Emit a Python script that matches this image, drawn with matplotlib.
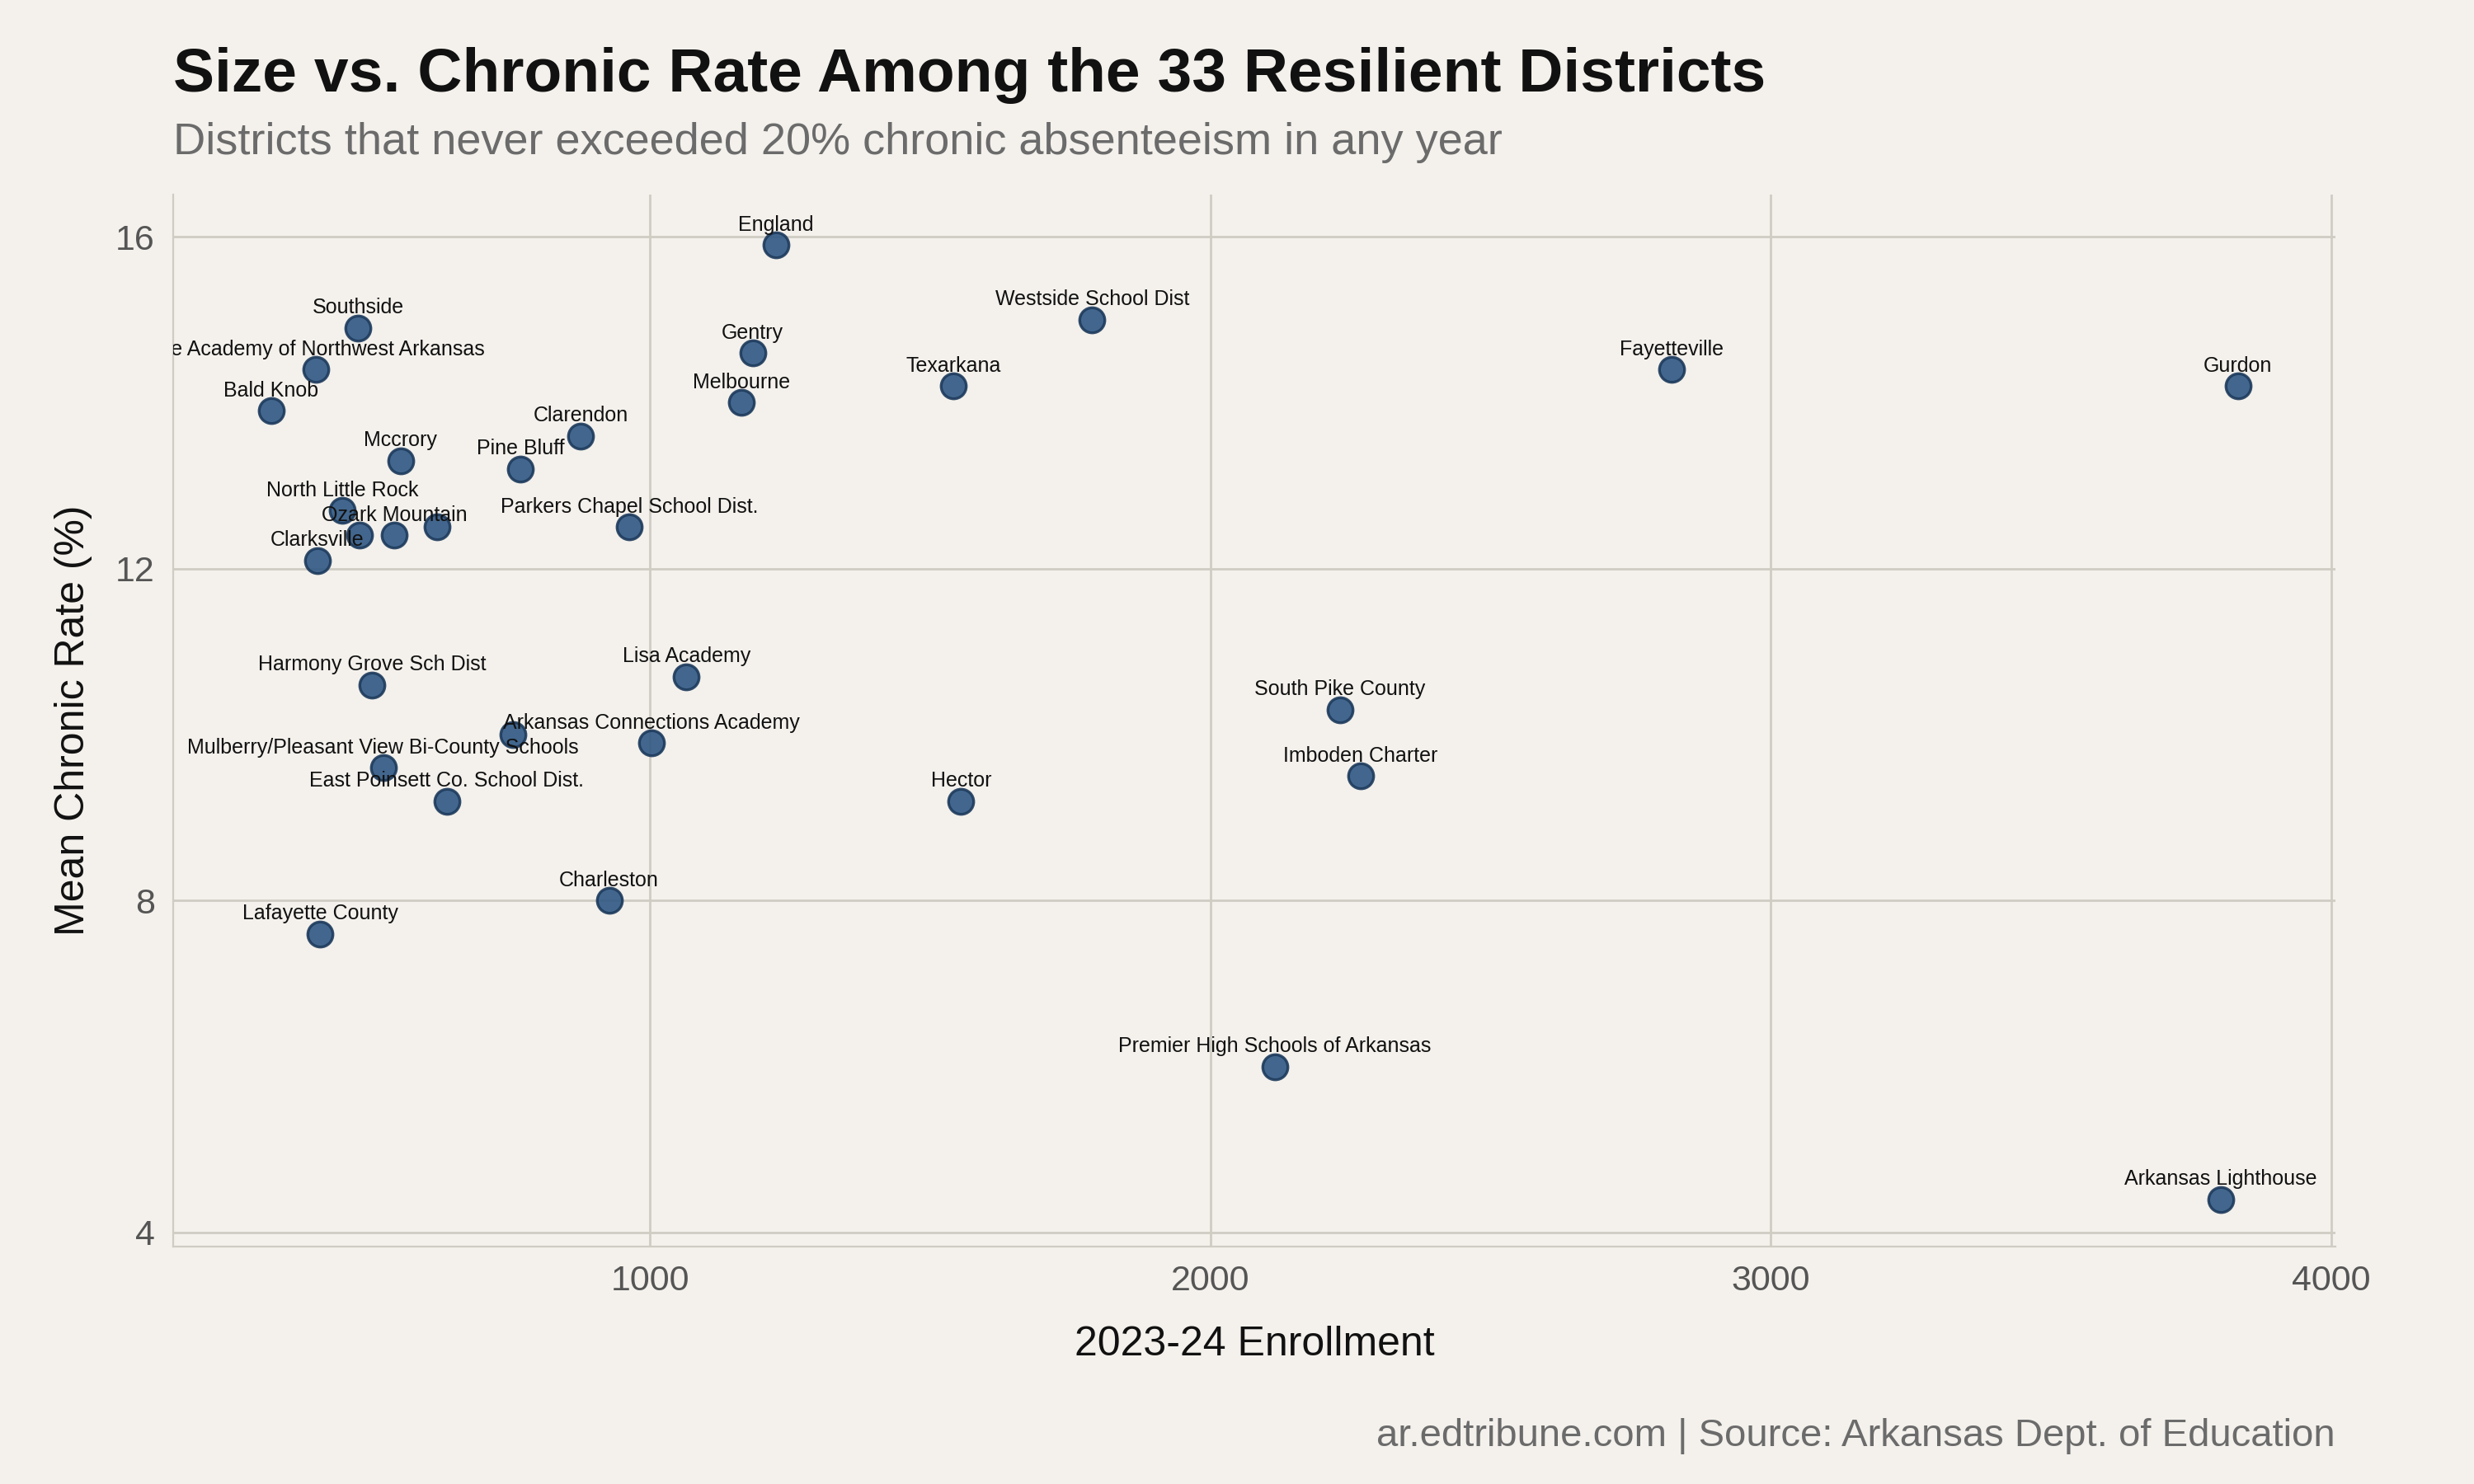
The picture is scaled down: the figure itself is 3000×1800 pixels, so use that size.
import matplotlib.pyplot as plt

plt.rcParams["font.family"] = ["Liberation Sans", "DejaVu Sans"]

BG = "#f4f1ec"
DOT = "#2f5783"

names = ["England", "Westside School Dist", "Texarkana", "Fayetteville", "Gurdon",
         "Gentry", "Melbourne", "Southside", "The Academy of Northwest Arkansas",
         "Bald Knob", "Mccrory", "Clarendon", "Pine Bluff", "Parkers Chapel School Dist.",
         "North Little Rock", "Ozark Mountain", "Clarksville", "Harmony Grove Sch Dist",
         "Mulberry/Pleasant View Bi-County Schools", "East Poinsett Co. School Dist.",
         "Arkansas Connections Academy", "Lisa Academy", "Charleston", "Lafayette County",
         "Hector", "South Pike County", "Imboden Charter", "Premier High Schools of Arkansas",
         "Arkansas Lighthouse", "", "", ""]
enrollment = [1225, 1789, 1541, 2823, 3834, 1183, 1163, 479, 403, 324, 555, 876, 769,
              963, 451, 544, 406, 504, 524, 637, 1003, 1065, 927, 411, 1555, 2231,
              2268, 2115, 3803, 482, 620, 755]
chronic = [15.9, 15.0, 14.2, 14.4, 14.2, 14.6, 14.0, 14.9, 14.4, 13.9, 13.3, 13.6, 13.2,
           12.5, 12.7, 12.4, 12.1, 10.6, 9.6, 9.2, 9.9, 10.7, 8.0, 7.6, 9.2, 10.3,
           9.5, 6.0, 4.4, 12.4, 12.5, 10.0]

fig = plt.figure(figsize=(15, 9), dpi=200, facecolor=BG)
ax = fig.add_axes([0.070, 0.160, 0.874, 0.709], facecolor=BG)

ax.scatter(enrollment, chronic, s=120, color=DOT, alpha=0.9,
           edgecolor="#1d3a5c", linewidth=1.2, zorder=3)
for n, x, y in zip(names, enrollment, chronic):
    if n:
        ax.annotate(n, (x, y), xytext=(0, 4.5), textcoords="offset points",
                    ha="center", va="bottom", fontsize=9, color="#111111",
                    annotation_clip=False, clip_on=True, zorder=4)

ax.set_xlim(149, 4008)
ax.set_ylim(3.83, 16.51)
ax.set_xticks([1000, 2000, 3000, 4000])
ax.set_yticks([4, 8, 12, 16])
ax.grid(True, color="#cfccc4", linewidth=1)
ax.set_axisbelow(True)
for s in ["top", "right"]:
    ax.spines[s].set_visible(False)
for s in ["left", "bottom"]:
    ax.spines[s].set_color("#cfccc4")
ax.tick_params(colors="#555555", labelsize=15.5, length=0, pad=8)
ax.set_xlabel("2023-24 Enrollment", fontsize=18, color="#111111", labelpad=12)
ax.set_ylabel("Mean Chronic Rate (%)", fontsize=18, color="#111111", labelpad=10)

fig.text(0.070, 0.930, "Size vs. Chronic Rate Among the 33 Resilient Districts",
         fontsize=27, fontweight="bold", color="#111111", va="bottom")
fig.text(0.070, 0.890, "Districts that never exceeded 20% chronic absenteeism in any year",
         fontsize=19.5, color="#6b6b6b", va="bottom")
fig.text(0.944, 0.020, "ar.edtribune.com | Source: Arkansas Dept. of Education",
         fontsize=17, color="#6b6b6b", ha="right", va="bottom")

fig.savefig("out.png", dpi=200, facecolor=BG)
